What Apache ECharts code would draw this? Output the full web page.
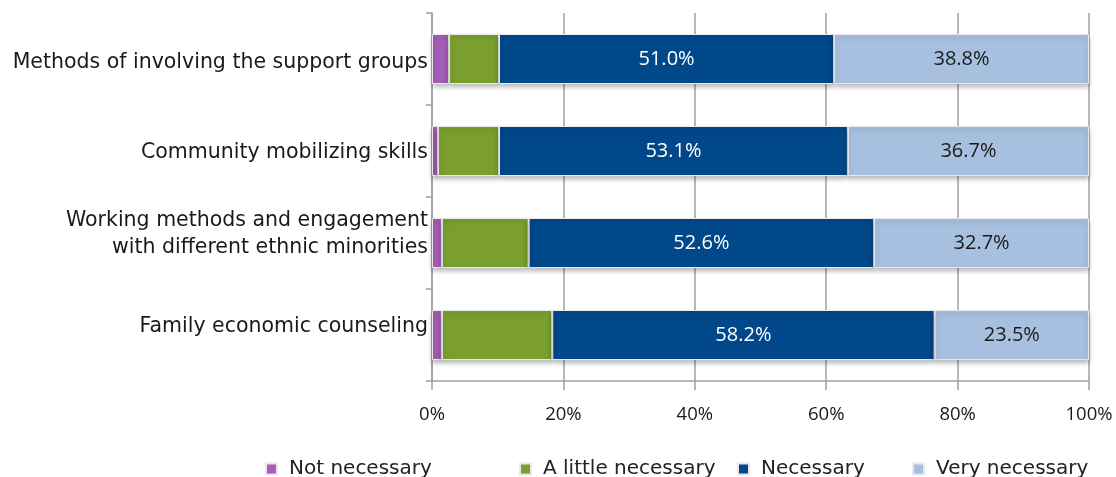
<!DOCTYPE html>
<html>
<head>
<meta charset="utf-8">
<script src="https://cdn.jsdelivr.net/npm/echarts@6/dist/echarts.min.js"></script>
<style>
  html, body { margin: 0; padding: 0; background: #ffffff; }
  #chart { width: 1116px; height: 477px; }
</style>
</head>
<body>
<div id="chart"></div>
<script>
// Training needs by topic (percent of respondents)
const categories = [
  'Methods of involving the support groups',
  'Community mobilizing skills',
  'Working methods and engagement\nwith different ethnic minorities',
  'Family economic counseling'
];
const seriesNames = ['Not necessary', 'A little necessary', 'Necessary', 'Very necessary'];
const notNecessary = [2.6, 0.9, 1.5, 1.5];
const littleNecessary = [7.6, 9.3, 13.2, 16.8];
const necessary = [51.0, 53.1, 52.6, 58.2];
const veryNecessary = [38.8, 36.7, 32.7, 23.5];
const xTicks = [0, 20, 40, 60, 80, 100];

const colors = ['#a55db6', '#7a9f2e', '#00488a', '#a7c0df'];
const labelColors = [null, null, '#ffffff', '#1a1a1a'];
const values = [notNecessary, littleNecessary, necessary, veryNecessary];
// vertical nudge (px) for each category label: positive moves it down
const labelNudge = [4, 2, -9, -8];

const chart = echarts.init(document.getElementById('chart'), null, { renderer: 'canvas' });

const series = seriesNames.map((name, i) => ({
  name: name,
  type: 'bar',
  stack: 'total',
  barWidth: 50,
  data: values[i],
  itemStyle: {
    color: colors[i],
    borderColor: '#e8e8e8',
    borderWidth: 1,
    shadowColor: 'rgba(0,0,0,0.28)',
    shadowBlur: 5,
    shadowOffsetY: 3
  },
  label: labelColors[i] ? {
    show: true,
    position: 'inside',
    color: labelColors[i],
    fontFamily: 'Open Sans',
    fontSize: 20,
    formatter: p => p.value.toFixed(1) + '%'
  } : { show: false },
  emphasis: { disabled: true }
}));

const legendLefts = [260, 514, 732, 907];
const legends = seriesNames.map((name, i) => ({
  data: [name],
  left: legendLefts[i],
  top: 454,
  icon: 'rect',
  itemWidth: 11,
  itemHeight: 11,
  itemGap: 0,
  textStyle: { fontFamily: 'DejaVu Sans', fontSize: 20, color: '#222', padding: [0, 0, 0, 7] },
  selectedMode: false
}));

// rich-text spacer lines shift each label block up or down
const rich = { t: { fontFamily: 'DejaVu Sans', fontSize: 20.5, color: '#1a1a1a', lineHeight: 27, align: 'right' } };
labelNudge.forEach((n, i) => {
  rich['s' + i] = { fontSize: 1, lineHeight: Math.abs(2 * n), height: Math.abs(2 * n) };
});
function formatCategory(value, index) {
  const i = categories.indexOf(value);
  const lines = value.split('\n').map(l => '{t|' + l + '}');
  const n = labelNudge[i];
  if (n > 0) lines.unshift('{s' + i + '| }');
  else if (n < 0) lines.push('{s' + i + '| }');
  return lines.join('\n');
}

chart.setOption({
  animation: false,
  grid: { left: 432, right: 27, top: 13, bottom: 96, containLabel: false },
  legend: legends,
  xAxis: {
    type: 'value',
    min: 0,
    max: 100,
    interval: 20,
    axisLine: { show: true, lineStyle: { color: '#a0a0a0', width: 1.5 } },
    axisTick: { show: true, length: 9, lineStyle: { color: '#a0a0a0', width: 1.5 } },
    splitLine: { show: true, lineStyle: { color: '#a0a0a0', width: 1.5 } },
    axisLabel: {
      formatter: v => xTicks.includes(v) ? v + '%' : '',
      fontFamily: 'Open Sans',
      fontSize: 18.5,
      color: '#1a1a1a',
      margin: 24
    }
  },
  yAxis: {
    type: 'category',
    data: categories,
    inverse: true,
    axisLine: { show: true, lineStyle: { color: '#a0a0a0', width: 1.5 } },
    axisTick: { show: true, length: 6, lineStyle: { color: '#a0a0a0', width: 1.5 } },
    axisLabel: {
      formatter: formatCategory,
      rich: rich,
      margin: 4,
      align: 'right'
    }
  },
  series: series
});
</script>
</body>
</html>
